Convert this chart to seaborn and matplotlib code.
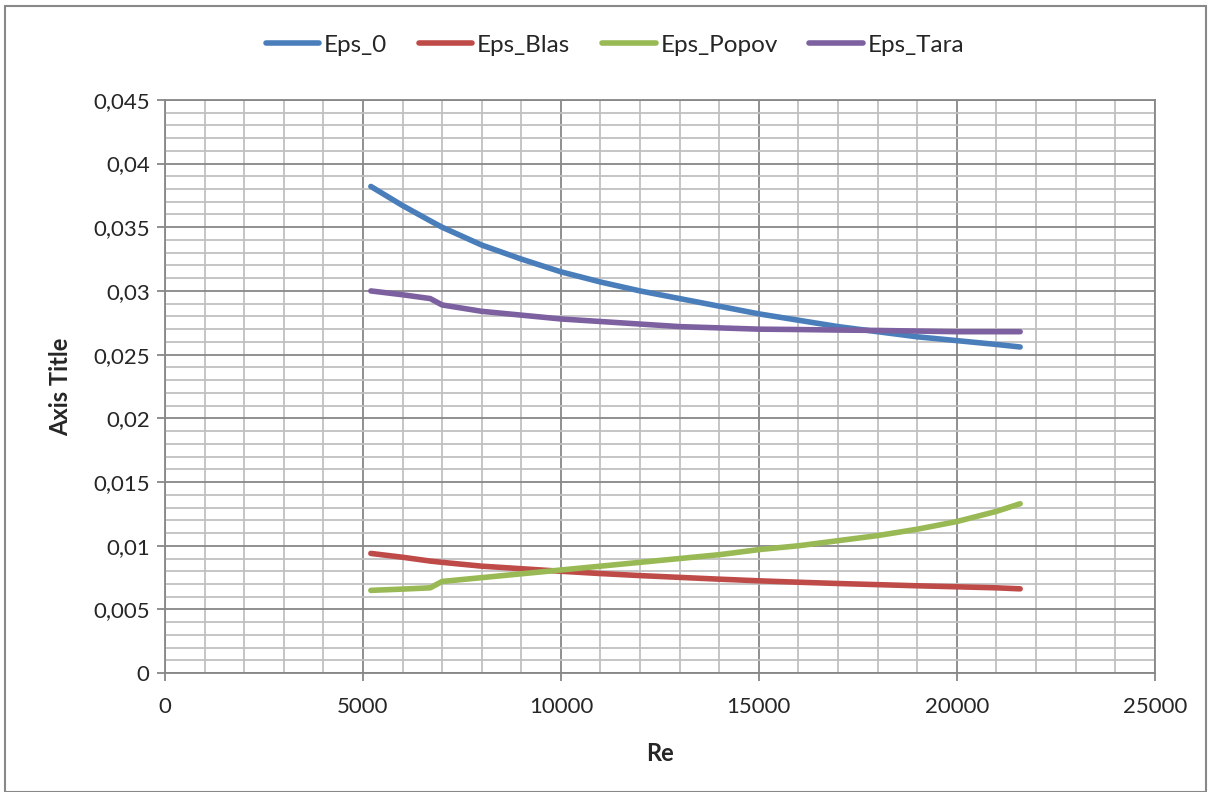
import pandas as pd
import matplotlib
matplotlib.use("Agg")
import matplotlib.pyplot as plt
from matplotlib.ticker import MultipleLocator, FuncFormatter
from matplotlib.patches import Rectangle
import seaborn as sns

# values
re_vals = [5200, 6000, 6700, 7000, 8000, 9000, 10000, 11000, 12000, 13000,
           14000, 15000, 16000, 17000, 18000, 19000, 20000, 21000, 21600]
eps_0 = [0.0382, 0.0367, 0.0355, 0.0350, 0.0336, 0.0325, 0.0315, 0.0307, 0.0300, 0.0294,
         0.0288, 0.0282, 0.0277, 0.0272, 0.0268, 0.0264, 0.0261, 0.0258, 0.0256]
eps_blas = [0.0094, 0.0091, 0.0088, 0.0087, 0.0084, 0.0082, 0.0080, 0.00782, 0.00766, 0.00752,
            0.00738, 0.00725, 0.00714, 0.00704, 0.00695, 0.00686, 0.00678, 0.0067, 0.00662]
eps_popov = [0.0065, 0.0066, 0.0067, 0.0072, 0.0075, 0.0078, 0.0081, 0.0084, 0.0087, 0.0090,
             0.0093, 0.0097, 0.0100, 0.0104, 0.0108, 0.0113, 0.0119, 0.0127, 0.0133]
eps_tara = [0.0300, 0.0297, 0.0294, 0.0289, 0.0284, 0.0281, 0.0278, 0.0276, 0.0274, 0.0272,
            0.0271, 0.0270, 0.02697, 0.02693, 0.0269, 0.02685, 0.0268, 0.0268, 0.0268]

series = {"Eps_0": eps_0, "Eps_Blas": eps_blas, "Eps_Popov": eps_popov, "Eps_Tara": eps_tara}
colors = {"Eps_0": "#4A7EBB", "Eps_Blas": "#BE4B48", "Eps_Popov": "#98B954", "Eps_Tara": "#7D60A0"}

df = pd.concat([pd.DataFrame({"Re": re_vals, "value": v, "series": k}) for k, v in series.items()])

sns.set_theme(style="white")
plt.rcParams["font.family"] = ["Lato", "DejaVu Sans"]

fig = plt.figure(figsize=(12.13, 7.92), dpi=100)
ax = fig.add_axes([0.136, 0.150, 0.816, 0.724])

sns.lineplot(data=df, x="Re", y="value", hue="series", palette=colors, linewidth=4,
             ax=ax, solid_capstyle="round", solid_joinstyle="round", legend=True)

ax.set_xlim(0, 25000)
ax.set_ylim(0, 0.045)
ax.xaxis.set_major_locator(MultipleLocator(5000))
ax.xaxis.set_minor_locator(MultipleLocator(1000))
ax.yaxis.set_major_locator(MultipleLocator(0.005))
ax.yaxis.set_minor_locator(MultipleLocator(0.001))
ax.yaxis.set_major_formatter(FuncFormatter(lambda v, _: "{:g}".format(round(v, 4)).replace(".", ",")))
ax.xaxis.set_major_formatter(FuncFormatter(lambda v, _: "{:g}".format(v)))

ax.set_axisbelow(True)
ax.grid(which="major", color="#878787", linewidth=1.3)
ax.grid(which="minor", color="#C0C0C0", linewidth=1.3)
for s in ax.spines.values():
    s.set_color("#878787")
    s.set_linewidth(1.3)
ax.tick_params(which="major", direction="out", length=6, color="#878787", width=1.3,
               labelsize=16, left=True, bottom=True, pad=5)
ax.tick_params(axis="x", which="major", pad=11)
ax.tick_params(which="minor", length=0)

ax.set_xlabel("Re", fontsize=17, fontweight="bold", labelpad=18)
ax.set_ylabel("Axis Title", fontsize=17, fontweight="bold", labelpad=15)

handles, labels = ax.get_legend_handles_labels()
ax.legend(handles, labels, loc="center", bbox_to_anchor=(0.507, 0.943), bbox_transform=fig.transFigure,
          ncol=4, frameon=False, fontsize=17.5, handlelength=2.2, handletextpad=0.2, columnspacing=1.3)

fig.patches.append(Rectangle((0.004, 0.0), 0.99, 0.993, transform=fig.transFigure,
                             fill=False, edgecolor="#888888", linewidth=1.5))

fig.savefig("out.png", dpi=100)
